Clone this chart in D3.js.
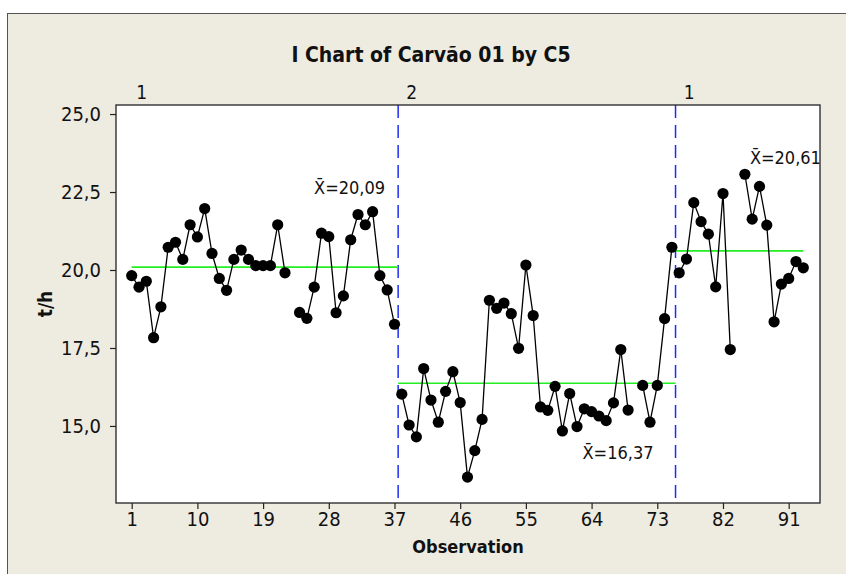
<!DOCTYPE html>
<html>
<head>
<meta charset="utf-8">
<script src="https://cdn.jsdelivr.net/npm/d3@7"></script>
<style>
  body { margin: 0; background: #fff; }
  svg text { font-family: 'DejaVu Sans Condensed', 'DejaVu Sans', sans-serif; font-stretch: condensed; }
</style>
</head>
<body>
<svg id="chart"></svg>
<script>
// I chart values (t/h), observation 1..93, null = missing
var values = [
  19.82, 19.45, 19.64, 17.83, 18.82, 20.73, 20.89, 20.34, 21.45, 21.06,
  21.97, 20.53, 19.73, 19.35, 20.34, 20.64, 20.34, 20.14, 20.14, 20.14,
  21.45, 19.91, null,  18.64, 18.45, 19.45, 21.18, 21.07, 18.63, 19.17,
  20.97, 21.78, 21.45, 21.87, 19.82, 19.36, 18.26,
  16.02, 15.03, 14.65,
  16.84, 15.83, 15.12, 16.11, 16.74, 15.75, 13.36, 14.21, 15.21, 19.03,
  18.77, 18.94, 18.60, 17.49, 20.16, 18.54, 15.61, 15.50, 16.27, 14.84,
  16.04, 14.98, 15.55, 15.46, 15.32, 15.17, 15.74, 17.45, 15.51, null,
  16.30, 15.12, 16.30, 18.44, 20.73,
  19.91, 20.35, 22.16, 21.55, 21.15,
  19.46, 22.45, 17.45, null,  23.07, 21.63, 22.68, 21.44, 18.34, 19.55,
  19.73, 20.27, 20.07
];

// stages (C5)
var stageNames  = ["1", "2", "1"];
var stageStarts = [1, 38, 76];
var stageEnds   = [37, 75, 93];
var stageMeans  = [20.09, 16.37, 20.61];

var xTicks = [1, 10, 19, 28, 37, 46, 55, 64, 73, 82, 91];
var yTicks = [15, 17.5, 20, 22.5, 25];

var title = "I Chart of Carvão 01 by C5";
var xTitle = "Observation";
var yTitle = "t/h";

var width = 846, height = 574;
var plot = {left: 116, right: 820, top: 105, bottom: 503};

var data = values.map(function(v, i){ return {obs: i + 1, v: v}; });

var x = d3.scaleLinear().domain([-1.15, 95.29]).range([plot.left, plot.right]);
var y = d3.scaleLinear().domain([12.53, 25.29]).range([plot.bottom, plot.top]);

var loc = d3.formatLocale({decimal: ",", thousands: ".", grouping: [3], currency: ["", ""]});
var fmt = loc.format(".1f");
var fmt2 = loc.format(".2f");

var svg = d3.select("#chart").attr("width", width).attr("height", height);

// outer figure panel
svg.append("rect")
  .attr("x", 7.5).attr("y", 13.5)
  .attr("width", width + 10).attr("height", height + 10)
  .attr("fill", "#eeebe1")
  .attr("stroke", "#555").attr("stroke-width", 1);

svg.append("rect")
  .attr("x", plot.left).attr("y", plot.top)
  .attr("width", plot.right - plot.left).attr("height", plot.bottom - plot.top)
  .attr("fill", "#fff");

svg.append("text")
  .attr("x", 431).attr("y", 62)
  .attr("text-anchor", "middle")
  .attr("font-size", 21).attr("font-weight", "bold")
  .attr("fill", "#111")
  .text(title);

// axes
var xAxis = d3.axisBottom(x).tickValues(xTicks).tickSize(6).tickSizeOuter(0).tickPadding(3);
var yAxis = d3.axisLeft(y).tickValues(yTicks).tickFormat(fmt).tickSize(6).tickSizeOuter(0).tickPadding(9);

var gx = svg.append("g")
  .attr("transform", "translate(0," + plot.bottom + ")")
  .call(xAxis);
var gy = svg.append("g")
  .attr("transform", "translate(" + plot.left + ",0)")
  .call(yAxis);

[gx, gy].forEach(function(g){
  g.select(".domain").remove();
  g.selectAll(".tick line").attr("stroke", "#222").attr("stroke-width", 1.2);
  g.selectAll(".tick text").attr("font-size", 20).attr("fill", "#111").attr("font-family", null);
});

svg.append("text")
  .attr("x", (plot.left + plot.right) / 2).attr("y", 553)
  .attr("text-anchor", "middle")
  .attr("font-size", 18).attr("font-weight", "bold").attr("fill", "#111")
  .text(xTitle);

svg.append("text")
  .attr("transform", "translate(52," + ((plot.top + plot.bottom) / 2) + ") rotate(-90)")
  .attr("text-anchor", "middle")
  .attr("font-size", 19).attr("font-weight", "bold").attr("fill", "#111")
  .text(yTitle);

// stage boundaries
var chart = svg.append("g");

stageEnds.slice(0, -1).forEach(function(e){
  chart.append("line")
    .attr("x1", x(e + 0.5)).attr("x2", x(e + 0.5))
    .attr("y1", plot.top).attr("y2", plot.bottom)
    .attr("stroke", "#1f2cf5").attr("stroke-width", 1.5)
    .attr("stroke-dasharray", "13,7");
});

// stage labels above the plot
stageNames.forEach(function(n, i){
  svg.append("text")
    .attr("x", x(stageStarts[i]) + 10).attr("y", 99)
    .attr("text-anchor", "middle")
    .attr("font-size", 19).attr("fill", "#111")
    .text(n);
});

// center lines
stageMeans.forEach(function(m, i){
  var x0 = Math.max(1, stageStarts[i] - 0.5);
  var x1 = Math.min(values.length, stageEnds[i] + 0.5);
  chart.append("line")
    .attr("x1", x(x0)).attr("x2", x(x1))
    .attr("y1", y(m)).attr("y2", y(m))
    .attr("stroke", "#22ee22").attr("stroke-width", 1.7);
});

// mean labels (offsets from the stage end / center line)
var labelPlace = [
  {dx: -13, dy: -73},
  {dx: -22, dy: 76},
  {dx: 14,  dy: -87}
];
stageMeans.forEach(function(m, i){
  chart.append("text")
    .attr("x", x(stageEnds[i] + 0.5) + labelPlace[i].dx)
    .attr("y", y(m) + labelPlace[i].dy)
    .attr("text-anchor", "end")
    .attr("font-size", 18).attr("fill", "#111")
    .text("X\u0304=" + fmt2(m));
});

// data lines, one per stage
var line = d3.line()
  .defined(function(d){ return d.v != null; })
  .x(function(d){ return x(d.obs); })
  .y(function(d){ return y(d.v); });

stageStarts.forEach(function(s, i){
  var seg = data.filter(function(d){ return d.obs >= s && d.obs <= stageEnds[i]; });
  chart.append("path")
    .attr("d", line(seg))
    .attr("fill", "none")
    .attr("stroke", "#000").attr("stroke-width", 1.3);
});

chart.selectAll("circle.pt")
  .data(data.filter(function(d){ return d.v != null; }))
  .enter().append("circle")
  .attr("class", "pt")
  .attr("cx", function(d){ return x(d.obs); })
  .attr("cy", function(d){ return y(d.v); })
  .attr("r", 5.6)
  .attr("fill", "#000");

// plot frame
svg.append("rect")
  .attr("x", plot.left).attr("y", plot.top)
  .attr("width", plot.right - plot.left).attr("height", plot.bottom - plot.top)
  .attr("fill", "none")
  .attr("stroke", "#222").attr("stroke-width", 1.3);
</script>
</body>
</html>
